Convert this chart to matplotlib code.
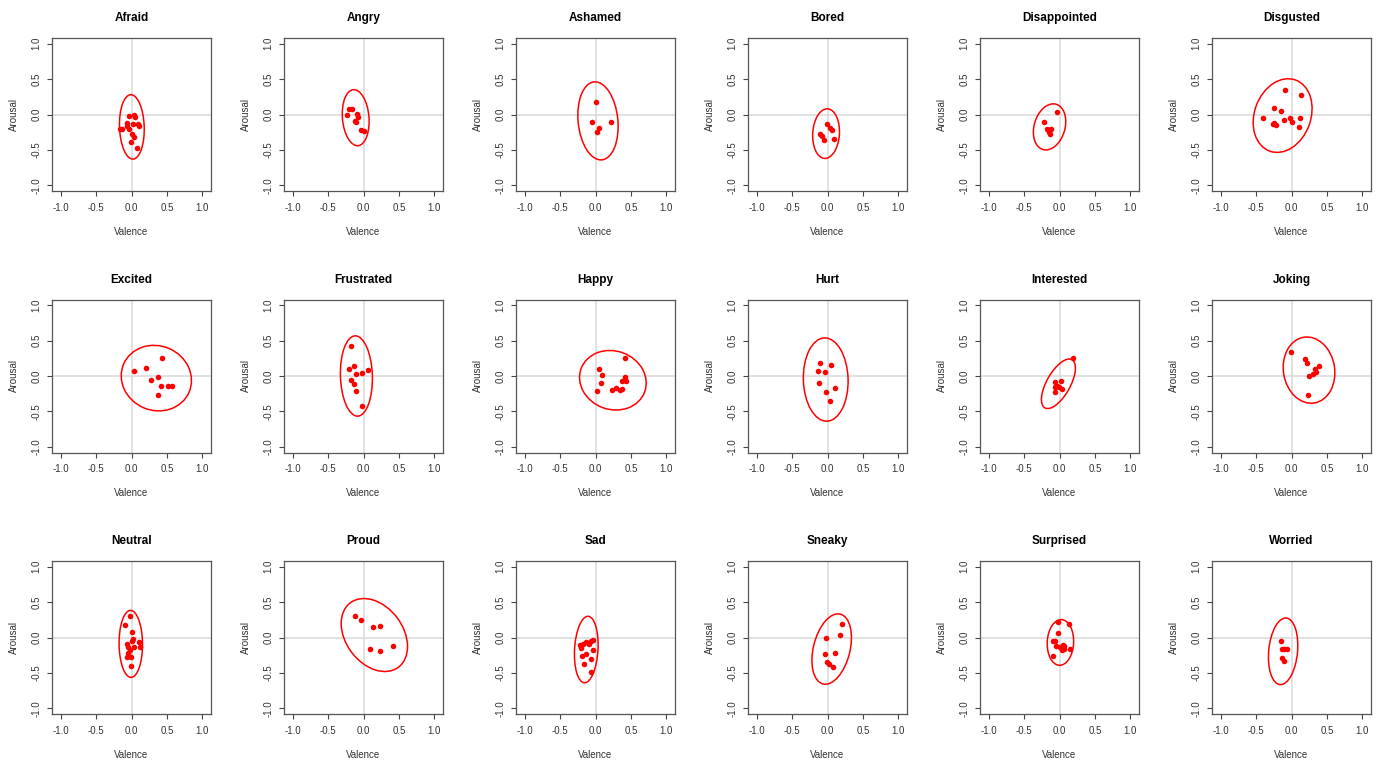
import matplotlib
matplotlib.use("Agg")
import matplotlib.pyplot as plt
from matplotlib.patches import Ellipse

plt.rcParams['font.family'] = ['Liberation Sans', 'DejaVu Sans']

emotions = ["Afraid", "Angry", "Ashamed", "Bored", "Disappointed", "Disgusted",
            "Excited", "Frustrated", "Happy", "Hurt", "Interested", "Joking",
            "Neutral", "Proud", "Sad", "Sneaky", "Surprised", "Worried"]

valence = [
    [-0.16, -0.14, -0.07, -0.06, -0.03, -0.03, 0.00, -0.01, 0.04, 0.05, 0.02, 0.04, 0.09, 0.10, 0.08],
    [-0.23, -0.20, -0.165, -0.085, -0.08, -0.12, -0.10, -0.04, 0.01],
    [0.00, -0.05, 0.05, 0.02, 0.22],
    [-0.01, 0.03, 0.06, -0.10, -0.08, -0.05, 0.09],
    [-0.03, -0.22, -0.18, -0.15, -0.12, -0.14, -0.15],
    [-0.395, -0.24, -0.265, -0.24, -0.215, -0.15, -0.10, -0.085, -0.02, 0.01, 0.12, 0.135, 0.10],
    [0.04, 0.21, 0.43, 0.27, 0.37, 0.42, 0.52, 0.57, 0.37],
    [-0.18, -0.20, -0.13, -0.11, -0.015, 0.06, -0.17, -0.13, -0.10, -0.025],
    [0.047, 0.085, 0.075, 0.015, 0.23, 0.29, 0.34, 0.38, 0.375, 0.41, 0.43, 0.42],
    [-0.11, -0.135, -0.03, 0.055, -0.115, -0.015, 0.10, 0.04],
    [0.19, 0.025, -0.07, -0.035, -0.065, 0.03, -0.07, -0.005],
    [-0.01, 0.19, 0.22, 0.33, 0.39, 0.35, 0.30, 0.25, 0.23],
    [-0.015, -0.085, 0.005, 0.015, 0.005, -0.065, -0.055, 0.033, -0.015, -0.047, -0.07, -0.01, -0.01, 0.10, 0.12],
    [-0.117, -0.04, 0.13, 0.235, 0.09, 0.235, 0.42],
    [-0.215, -0.205, -0.175, -0.135, -0.108, -0.066, -0.042, -0.085, -0.033, -0.136, -0.188, -0.061, -0.16, -0.066],
    [-0.02, 0.17, 0.20, -0.04, 0.10, -0.005, 0.02, 0.075],
    [-0.023, 0.127, -0.023, -0.085, -0.06, -0.056, -0.085, 0.014, 0.047, 0.07, 0.033, 0.066, 0.15, 0.005],
    [-0.15, -0.136, -0.10, -0.066, -0.131, -0.10],
]

arousal = [
    [-0.20, -0.20, -0.12, -0.16, -0.02, -0.20, -0.27, -0.39, -0.01, -0.04, -0.13, -0.32, -0.13, -0.16, -0.47],
    [0.00, 0.08, 0.08, 0.01, -0.04, -0.085, -0.10, -0.225, -0.23],
    [0.18, -0.10, -0.19, -0.24, -0.11],
    [-0.14, -0.19, -0.225, -0.28, -0.31, -0.36, -0.34],
    [0.03, -0.11, -0.21, -0.22, -0.21, -0.28, -0.245],
    [-0.055, 0.095, -0.13, -0.12, -0.15, 0.05, -0.075, 0.34, -0.055, -0.11, -0.055, 0.28, -0.175],
    [0.07, 0.12, 0.25, -0.06, -0.02, -0.145, -0.135, -0.135, -0.275],
    [0.43, 0.10, 0.135, 0.03, 0.04, 0.08, -0.06, -0.11, -0.215, -0.42],
    [0.10, 0.02, -0.10, -0.205, -0.195, -0.17, -0.195, -0.18, -0.07, -0.02, -0.07, 0.25],
    [0.19, 0.065, 0.05, 0.155, -0.095, -0.23, -0.165, -0.35],
    [0.25, -0.07, -0.085, -0.135, -0.16, -0.18, -0.22, -0.155],
    [0.333, 0.24, 0.18, 0.095, 0.135, 0.06, 0.03, -0.005, -0.27],
    [0.30, 0.175, 0.08, -0.02, -0.05, -0.095, -0.13, -0.13, -0.17, -0.225, -0.27, -0.27, -0.40, -0.07, -0.13],
    [0.30, 0.245, 0.155, 0.165, -0.165, -0.197, -0.117],
    [-0.10, -0.155, -0.085, -0.07, -0.075, -0.056, -0.033, -0.094, -0.173, -0.23, -0.262, -0.305, -0.375, -0.487],
    [-0.005, 0.033, 0.19, -0.235, -0.22, -0.34, -0.38, -0.41],
    [0.215, 0.187, 0.06, -0.05, -0.05, -0.127, -0.258, -0.14, -0.108, -0.113, -0.178, -0.169, -0.169, -0.136],
    [-0.056, -0.16, -0.16, -0.16, -0.286, -0.333],
]

# confidence ellipses: centre, semi-axes and rotation (deg) of the first axis
ell_cx = [0.005, -0.11, 0.035, -0.02, -0.14, -0.125, 0.35, -0.10, 0.245, -0.025, -0.015, 0.247,
          -0.01, 0.153, -0.13, 0.059, 0.013, -0.118]
ell_cy = [-0.175, -0.045, -0.09, -0.27, -0.175, -0.015, -0.03, 0.0, -0.06, -0.05, -0.11, 0.083,
          -0.09, 0.035, -0.17, -0.163, -0.07, -0.195]
ell_a = [0.455, 0.397, 0.553, 0.351, 0.333, 0.534, 0.502, 0.567, 0.477, 0.588, 0.39, 0.47,
         0.473, 0.567, 0.47, 0.508, 0.323, 0.472]
ell_b = [0.174, 0.187, 0.28, 0.188, 0.217, 0.397, 0.455, 0.225, 0.412, 0.315, 0.166, 0.361,
         0.165, 0.403, 0.165, 0.258, 0.186, 0.203]
ell_angle = [92, 94.7, 95.7, 86.5, 73.8, 70.2, -23.3, 91.8, -20.2, 91.7, 60.7, 99,
             90.5, 126.4, 86.7, 76.2, 87.3, 84.6]

ticks = [-1.0, -0.5, 0.0, 0.5, 1.0]
tick_labels = ["-1.0", "-0.5", "0.0", "0.5", "1.0"]

W, H = 1380, 764
fig = plt.figure(figsize=(W / 100, H / 100), dpi=100)

for i, name in enumerate(emotions):
    row, col = divmod(i, 6)
    x0 = 52 + 232 * col
    y0 = 38 + 261.5 * row
    ax = fig.add_axes([x0 / W, 1 - (y0 + 153) / H, 159 / W, 153 / H])
    ax.set_xlim(-1.12, 1.12)
    ax.set_ylim(-1.08, 1.08)
    ax.axhline(0, color='#d9d9d9', lw=1.1, zorder=1)
    ax.axvline(0, color='#d9d9d9', lw=1.1, zorder=1)
    ax.add_patch(Ellipse((ell_cx[i], ell_cy[i]), 2 * ell_a[i], 2 * ell_b[i], angle=ell_angle[i],
                         fill=False, edgecolor='#ff0000', lw=1.1, zorder=2))
    ax.plot(valence[i], arousal[i], 'o', color='#ff0000', ms=4, mew=0, zorder=3)

    ax.set_xticks(ticks)
    ax.set_xticklabels(tick_labels)
    ax.set_yticks(ticks)
    ax.set_yticklabels(tick_labels, rotation=90, va='center')
    ax.tick_params(length=3.5, width=0.8, color='#444444', labelcolor='#333333', labelsize=7)
    ax.tick_params(axis='x', pad=5)
    ax.tick_params(axis='y', pad=4)
    for s in ax.spines.values():
        s.set_color('#555555')
        s.set_linewidth(0.9)

    ax.set_title(name, fontsize=8.5, fontweight='bold', pad=12)
    ax.set_xlabel("Valence", fontsize=7, color='#333333', labelpad=10)
    ax.set_ylabel("Arousal", fontsize=7, color='#333333', labelpad=9)

fig.savefig("out.png", dpi=100, facecolor='white')
